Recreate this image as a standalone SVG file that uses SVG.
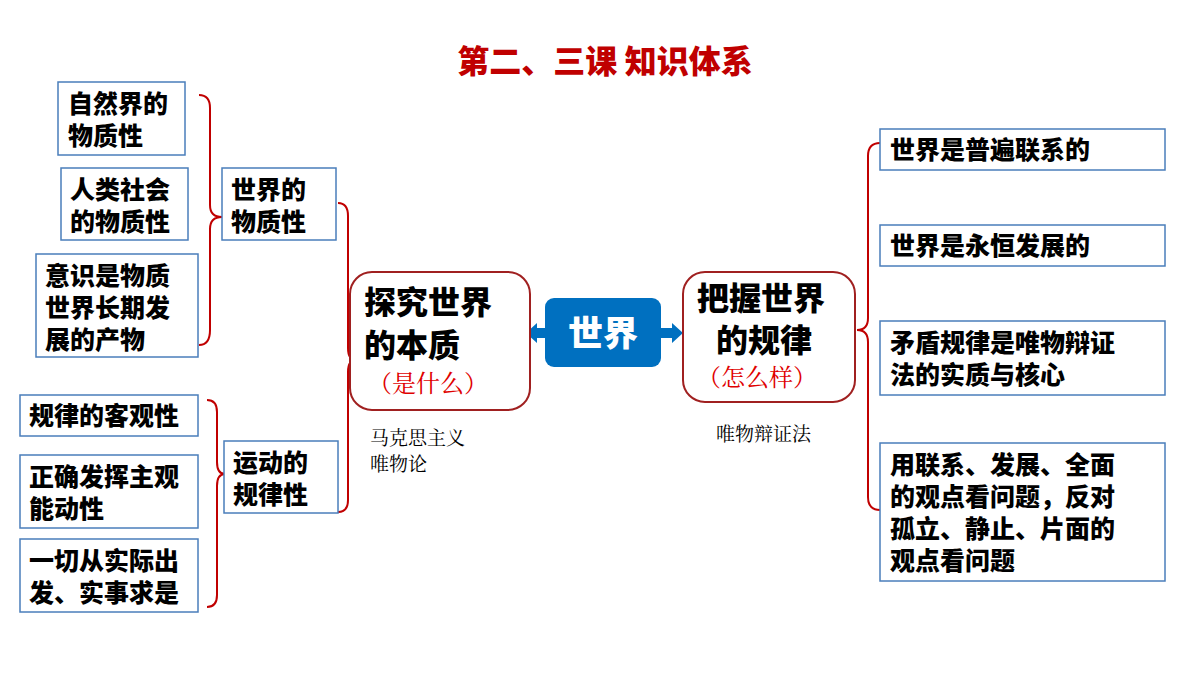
<svg xmlns="http://www.w3.org/2000/svg" width="1200" height="675" viewBox="0 0 1200 675">
<style>
.b{fill:#fff;stroke:#4a7ebb;stroke-width:1.5}
.t{font-family:"Noto Sans CJK SC",sans-serif;font-weight:900;font-size:25px;fill:#000}
.m{font-family:"Noto Sans CJK SC",sans-serif;font-weight:900;font-size:32px;fill:#000}
.r{font-family:"Noto Serif CJK SC","Noto Sans CJK SC",serif;font-size:24px;fill:#e00000}
.s{font-family:"Noto Serif CJK SC","Noto Sans CJK SC",serif;font-size:19px;fill:#000}
.br{fill:none;stroke:#c00000;stroke-width:2}
.c{fill:#fff;stroke:#a02020;stroke-width:2}
</style>
<rect width="1200" height="675" fill="#fff"/>
<text x="605" y="73" text-anchor="middle" font-family="Noto Sans CJK SC,sans-serif" font-weight="900" font-size="32" fill="#c00000">第二、三课 知识体系</text>
<g id="connectors">
<path class="br" d="M199,95 Q210,95 210,108 V205 Q210,217 222,217 Q210,217 210,229 V330 Q210,345 199,345"/>
<path class="br" d="M338,203 Q348,203 348,216 V348 Q348,360 356,360 Q348,360 348,372 V500 Q348,512 338,512"/>
<path class="br" d="M207,400 Q217,400 217,412 V462 Q217,474 225,474 Q217,474 217,486 V595 Q217,607 207,607"/>
<path class="br" d="M880,143 Q868,143 868,156 V318 Q868,330 857,330 Q868,330 868,342 V497 Q868,510 880,510"/>
<path d="M545,328 H537 V323 L526,333 L537,343 V338 H545 Z" fill="#0070c0"/>
<path d="M661,328 H672 V323 L683,333 L672,343 V338 H661 Z" fill="#0070c0"/>
</g>
<g id="n1"><rect class="b" x="58" y="82" width="127" height="73"/><text class="t" x="68" y="113">自然界的</text><text class="t" x="68" y="145">物质性</text></g>
<g id="n2"><rect class="b" x="61" y="168" width="127" height="72"/><text class="t" x="70" y="199">人类社会</text><text class="t" x="70" y="231">的物质性</text></g>
<g id="n3"><rect class="b" x="36" y="254" width="162" height="103"/><text class="t" x="45" y="285">意识是物质</text><text class="t" x="45" y="317">世界长期发</text><text class="t" x="45" y="349">展的产物</text></g>
<g id="n4"><rect class="b" x="222" y="168" width="114" height="72"/><text class="t" x="231" y="199">世界的</text><text class="t" x="231" y="231">物质性</text></g>
<g id="n5"><rect class="b" x="20" y="395" width="178" height="41"/><text class="t" x="29" y="425">规律的客观性</text></g>
<g id="n6"><rect class="b" x="20" y="455" width="178" height="73"/><text class="t" x="29" y="486">正确发挥主观</text><text class="t" x="29" y="518">能动性</text></g>
<g id="n7"><rect class="b" x="20" y="539" width="178" height="73"/><text class="t" x="29" y="570">一切从实际出</text><text class="t" x="29" y="602">发、实事求是</text></g>
<g id="n8"><rect class="b" x="224" y="441" width="114" height="72"/><text class="t" x="233" y="472">运动的</text><text class="t" x="233" y="504">规律性</text></g>
<g id="n9"><rect class="c" x="350" y="272" width="180" height="138" rx="22"/><text class="m" x="364" y="314">探究世界</text><text class="m" x="364" y="357">的本质</text><text class="r" x="368" y="392">（是什么）</text></g>
<g id="n10"><rect x="545" y="298" width="116" height="69" rx="9" fill="#0070c0"/><text x="603" y="346" text-anchor="middle" font-family="Noto Sans CJK SC,sans-serif" font-weight="900" font-size="35" fill="#fff">世界</text></g>
<g id="n11"><rect class="c" x="683" y="272" width="172" height="130" rx="22"/><text class="m" x="697" y="310">把握世界</text><text class="m" x="716" y="352">的规律</text><text class="r" x="697" y="386">（怎么样）</text></g>
<g id="n12"><text class="s" x="370" y="445">马克思主义</text><text class="s" x="370" y="471">唯物论</text></g>
<g id="n13"><text class="s" x="716" y="441">唯物辩证法</text></g>
<g id="n14"><rect class="b" x="880" y="129" width="285" height="41"/><text class="t" x="890" y="159">世界是普遍联系的</text></g>
<g id="n15"><rect class="b" x="880" y="225" width="285" height="41"/><text class="t" x="890" y="255">世界是永恒发展的</text></g>
<g id="n16"><rect class="b" x="880" y="321" width="285" height="74"/><text class="t" x="890" y="352">矛盾规律是唯物辩证</text><text class="t" x="890" y="384">法的实质与核心</text></g>
<g id="n17"><rect class="b" x="880" y="443" width="285" height="138"/><text class="t" x="890" y="474">用联系、发展、全面</text><text class="t" x="890" y="506">的观点看问题，反对</text><text class="t" x="890" y="538">孤立、静止、片面的</text><text class="t" x="890" y="570">观点看问题</text></g>
</svg>
